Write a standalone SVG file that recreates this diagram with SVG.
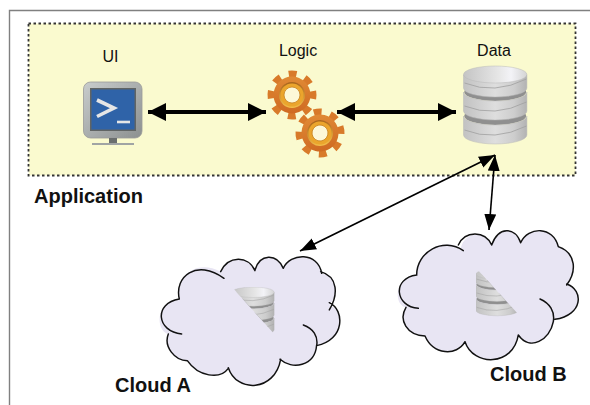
<svg xmlns="http://www.w3.org/2000/svg" width="590" height="405" viewBox="0 0 590 405">
<style>
text{font-family:"Liberation Sans",Arial,sans-serif;fill:#111}
.n{font-size:16px;text-anchor:middle}
.b{font-size:20px;font-weight:bold}
.cf{fill:#e8e5f3}
.cs{fill:none;stroke:#111;stroke-width:4.4;stroke-linecap:round}
.thick{stroke:#000;stroke-width:4;fill:none;marker-start:url(#bigHead);marker-end:url(#bigHead)}
.thin{stroke:#000;stroke-width:1.6;fill:none;marker-start:url(#smallHead);marker-end:url(#smallHead)}
</style>
<defs>
<marker id="bigHead" markerUnits="userSpaceOnUse" markerWidth="20" markerHeight="20" refX="18" refY="10" orient="auto-start-reverse"><path d="M0 1L18 10L0 19Z" fill="#000"/></marker>
<marker id="smallHead" markerUnits="userSpaceOnUse" markerWidth="18" markerHeight="14" refX="16" refY="7" orient="auto-start-reverse"><path d="M0 1L16 7L0 13Z" fill="#000"/></marker>
<linearGradient id="disk"><stop offset="0" stop-color="#c2c2c2"/><stop offset=".5" stop-color="#dedede"/><stop offset=".8" stop-color="#cdcdcd"/><stop offset="1" stop-color="#b2b2b2"/></linearGradient>
<linearGradient id="diskTop"><stop offset="0" stop-color="#c4c4c4"/><stop offset=".55" stop-color="#e6e6e6"/><stop offset=".75" stop-color="#f3f3f7"/><stop offset="1" stop-color="#d4d4d4"/></linearGradient>
<linearGradient id="gear" x1="0" y1="0" x2="0" y2="1"><stop offset="0" stop-color="#e08a35"/><stop offset="1" stop-color="#cf6a22"/></linearGradient>
<linearGradient id="ring" x1="0" y1="0" x2="0" y2="1"><stop offset="0" stop-color="#a8641c"/><stop offset="1" stop-color="#f4c04a"/></linearGradient>
<linearGradient id="bezel" x1="0" y1="0" x2="1" y2="1"><stop offset="0" stop-color="#c8cccc"/><stop offset="1" stop-color="#8c9090"/></linearGradient>
<g id="db">
<ellipse cx="31.700" cy="50" rx="31" ry="9" fill="#8f8f8f"/>
<path d="M0 50V69A31.700 9 0 0 0 63.400 69V50A31.700 9 0 0 1 0 50Z" fill="url(#disk)" stroke="#b8b8b8" stroke-width=".5"/>
<path d="M1 64Q31 76 63 60" fill="none" stroke="#a0a0a0" stroke-width=".8"/>
<ellipse cx="31.700" cy="26" rx="31" ry="9" fill="#8f8f8f"/>
<path d="M0 26V45A31.700 9 0 0 0 63.400 45V26A31.700 9 0 0 1 0 26Z" fill="url(#disk)" stroke="#b8b8b8" stroke-width=".5"/>
<path d="M1 40Q31 52 63 36" fill="none" stroke="#a0a0a0" stroke-width=".8"/>
<path d="M0 9V22A31.700 9 0 0 0 63.400 22V9Z" fill="url(#disk)" stroke="#b8b8b8" stroke-width=".5"/>
<path d="M1 17Q31 29 63 13" fill="none" stroke="#a0a0a0" stroke-width=".8"/>
<ellipse cx="31.700" cy="8.500" rx="31.700" ry="8.500" fill="url(#diskTop)" stroke="#b8b8b8" stroke-width=".5"/>
</g>
<g id="gearShape">
<circle r="20.500" fill="none" stroke="#d87a2a" stroke-width="8" stroke-dasharray="7.500 8.600" transform="rotate(-10.500)"/>
<circle r="18.500" fill="url(#gear)"/>
<circle r="13" fill="url(#ring)"/>
<circle r="11.500" fill="#eba52c"/>
<circle r="8" fill="#fdf8d8" stroke="#c8821f" stroke-width=".8"/>
</g>
<clipPath id="clipA"><path d="M232 287H276V336Z"/></clipPath>
<clipPath id="clipB"><path d="M476 268L519 315V317H476Z"/></clipPath>
</defs>
<rect width="590" height="405" fill="#fff"/>
<path d="M9.500 405V10.500H590" fill="none" stroke="#808080" stroke-width="1.400"/>
<g id="application">
<rect x="28.500" y="23.500" width="547" height="152" fill="#fafacf" stroke="#333" stroke-width="1.800" stroke-dasharray="2.500 2.500"/>
<text class="b" x="34" y="203">Application</text>
</g>
<g id="connectors">
<path class="thick" d="M148 112H266"/>
<path class="thick" d="M337 112H456"/>
<path class="thin" d="M495 155L300 251"/>
<path class="thin" d="M495 155L489 230"/>
</g>
<g id="ui">
<text class="n" x="110.500" y="62">UI</text>
<rect x="83.500" y="82" width="58.500" height="56" rx="7" fill="url(#bezel)" stroke="#999" stroke-width=".8"/>
<rect x="90" y="88" width="46" height="43" fill="#606464"/>
<rect x="91.500" y="89.500" width="43" height="40" fill="#2f63a8"/>
<path d="M97 100L114 108L97 116.500" fill="none" stroke="#e6e6e6" stroke-width="3.600"/>
<path d="M117 122H130" stroke="#e6e6e6" stroke-width="2.600"/>
<rect x="109" y="138" width="8" height="5" fill="#6a6e6e"/>
<rect x="92" y="143" width="42" height="2" fill="#a0a4a4"/>
</g>
<g id="logic">
<text class="n" x="298" y="56">Logic</text>
<use href="#gearShape" transform="translate(292 95)"/>
<use href="#gearShape" transform="translate(320 133) rotate(-8)"/>
</g>
<g id="data">
<text class="n" x="494" y="56">Data</text>
<use href="#db" transform="translate(463.500 66)"/>
</g>
<g id="cloudA">
<g transform="translate(100 230) scale(.3333)">
<path class="cf" d="M238 207C222 140 290 85 362 125C385 76 445 76 465 120C480 70 530 70 550 115C570 68 655 65 665 130C715 140 715 195 688 225C735 240 735 330 650 345C645 410 575 420 540 388C525 485 410 490 385 415C360 450 295 440 262 392C225 392 190 350 205 312C170 305 160 220 238 207Z"/>
<path class="cs" d="M238 207C222 140 290 85 372 145M362 125C385 76 445 76 465 122M465 120C480 70 530 70 550 115M550 115C570 68 655 65 665 130M662 125C715 140 715 195 688 240M688 218C735 240 735 330 650 347M610 285C640 295 655 320 650 347M650 345C645 410 575 420 540 388M542 388C525 485 410 490 385 413M385 415C360 450 295 440 262 392M262 392C225 392 190 350 205 312M245 312C170 305 160 220 238 207"/>
</g>
<g clip-path="url(#clipA)"><use href="#db" transform="translate(232 287) scale(.665 .62)"/></g>
<text class="b" x="115" y="392">Cloud A</text>
</g>
<g id="cloudB">
<g transform="translate(390 220) scale(.3333)">
<path class="cf" d="M80 165C80 95 160 50 212 85C225 31 285 31 305 75C325 19 375 19 392 68C415 18 490 18 505 80C560 100 560 155 530 192C582 210 580 285 495 298C480 360 420 395 385 345C370 440 250 440 225 365C200 410 130 405 105 348C50 345 25 300 48 262C15 260 5 175 80 165Z"/>
<path class="cs" d="M85 265C15 260 5 175 80 165C80 95 160 50 220 92M205 75C225 31 285 31 305 75M305 75C325 19 375 19 392 68M392 68C415 18 490 18 505 80M505 80C560 100 560 155 530 195M530 192C582 210 580 285 495 298M450 237C480 250 495 275 490 305C480 360 420 395 385 345M385 345C370 440 250 440 225 365M225 365C200 410 130 405 105 348M105 348C50 345 25 300 48 262"/>
</g>
<g clip-path="url(#clipB)"><use href="#db" transform="translate(476 269) scale(.665 .6)"/></g>
<text class="b" x="490" y="381">Cloud B</text>
</g>
</svg>
